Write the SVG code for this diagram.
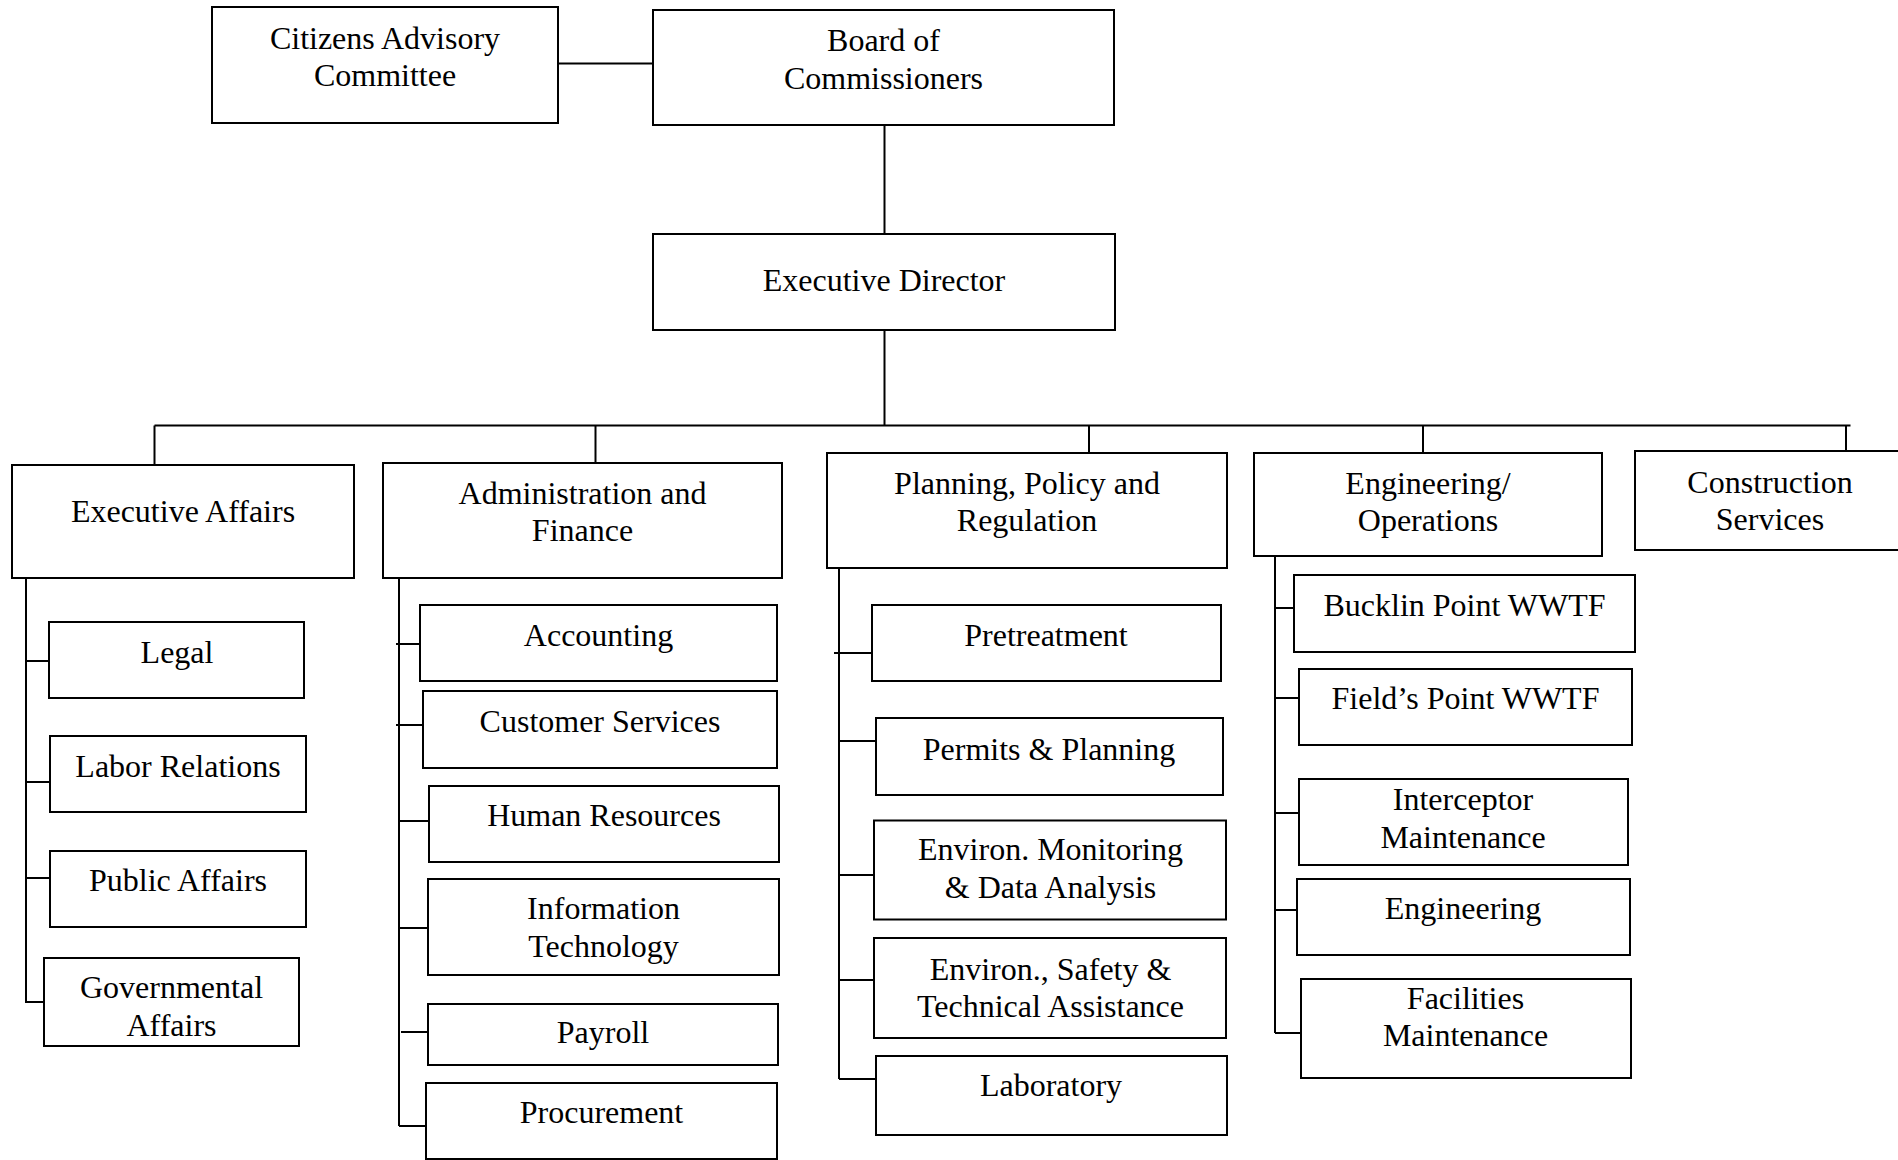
<svg xmlns="http://www.w3.org/2000/svg" width="1898" height="1160" viewBox="0 0 1898 1160">
<style>
  .box { fill: #ffffff; stroke: #000000; stroke-width: 2; }
  .lbl { font-family: "Liberation Serif", "Times New Roman", serif; font-size: 32px; fill: #000000; text-anchor: middle; }
  .conn path { fill: none; stroke: #000000; stroke-width: 2; }
</style>
<rect x="0" y="0" width="1898" height="1160" fill="#ffffff"/>
<g class="conn" id="connectors">
  <path d="M558 63.5 H653"/>
  <path d="M884.5 125 V234"/>
  <path d="M884.5 330 V425.5"/>
  <path d="M154.5 425.5 H1850.5"/>
  <path d="M154.5 425.5 V465"/>
  <path d="M595.5 425.5 V463"/>
  <path d="M1089 425.5 V453"/>
  <path d="M1423 425.5 V453"/>
  <path d="M1846 425.5 V451"/>
  <path d="M26 578 V1002"/>
  <path d="M26 661 H49"/>
  <path d="M26 782 H50"/>
  <path d="M26 878 H50"/>
  <path d="M25 1002 H44"/>
  <path d="M399 578 V1126"/>
  <path d="M396 644 H420"/>
  <path d="M396 725 H423"/>
  <path d="M399 821 H429"/>
  <path d="M399 928 H428"/>
  <path d="M401 1032 H428"/>
  <path d="M399 1126 H426"/>
  <path d="M839 568 V1079"/>
  <path d="M834 653 H872"/>
  <path d="M839 741 H876"/>
  <path d="M839 875 H874"/>
  <path d="M839 980 H874"/>
  <path d="M839 1079 H876"/>
  <path d="M1275 553 V1033"/>
  <path d="M1275 608 H1294"/>
  <path d="M1275 698 H1299"/>
  <path d="M1275 813 H1299"/>
  <path d="M1275 910 H1297"/>
  <path d="M1275 1033 H1301"/>
</g>
<g id="citizens"><rect class="box" x="212" y="7" width="346" height="116"/><text class="lbl" x="385" y="48.5">Citizens Advisory</text><text class="lbl" x="385" y="86">Committee</text></g>
<g id="board"><rect class="box" x="653" y="10" width="461" height="115"/><text class="lbl" x="883.5" y="51">Board of</text><text class="lbl" x="883.5" y="88.5">Commissioners</text></g>
<g id="exec-director"><rect class="box" x="653" y="234" width="462" height="96"/><text class="lbl" x="884" y="291">Executive Director</text></g>
<g id="exec-affairs"><rect class="box" x="12" y="465" width="342" height="113"/><text class="lbl" x="183" y="521.5">Executive Affairs</text></g>
<g id="admin-finance"><rect class="box" x="383" y="463" width="399" height="115"/><text class="lbl" x="582.5" y="504">Administration and</text><text class="lbl" x="582.5" y="541">Finance</text></g>
<g id="planning"><rect class="box" x="827" y="453" width="400" height="115"/><text class="lbl" x="1027" y="494">Planning, Policy and</text><text class="lbl" x="1027" y="531">Regulation</text></g>
<g id="eng-ops"><rect class="box" x="1254" y="453" width="348" height="103"/><text class="lbl" x="1428" y="494">Engineering/</text><text class="lbl" x="1428" y="531">Operations</text></g>
<g id="construction"><rect class="box" x="1635" y="451" width="267" height="99"/><text class="lbl" x="1770" y="492.5">Construction</text><text class="lbl" x="1770" y="530">Services</text></g>
<g id="legal"><rect class="box" x="49" y="622" width="255" height="76"/><text class="lbl" x="177" y="663">Legal</text></g>
<g id="labor"><rect class="box" x="50" y="736" width="256" height="76"/><text class="lbl" x="178" y="777">Labor Relations</text></g>
<g id="public"><rect class="box" x="50" y="851" width="256" height="76"/><text class="lbl" x="178" y="891">Public Affairs</text></g>
<g id="governmental"><rect class="box" x="44" y="958" width="255" height="88"/><text class="lbl" x="171.5" y="998">Governmental</text><text class="lbl" x="171.5" y="1035.5">Affairs</text></g>
<g id="accounting"><rect class="box" x="420" y="605" width="357" height="76"/><text class="lbl" x="598.5" y="646">Accounting</text></g>
<g id="customer"><rect class="box" x="423" y="691" width="354" height="77"/><text class="lbl" x="600" y="732">Customer Services</text></g>
<g id="hr"><rect class="box" x="429" y="786" width="350" height="76"/><text class="lbl" x="604" y="826">Human Resources</text></g>
<g id="it"><rect class="box" x="428" y="879" width="351" height="96"/><text class="lbl" x="603.5" y="918.5">Information</text><text class="lbl" x="603.5" y="956.5">Technology</text></g>
<g id="payroll"><rect class="box" x="428" y="1004" width="350" height="61"/><text class="lbl" x="603" y="1043">Payroll</text></g>
<g id="procurement"><rect class="box" x="426" y="1083" width="351" height="76"/><text class="lbl" x="601.5" y="1123">Procurement</text></g>
<g id="pretreatment"><rect class="box" x="872" y="605" width="349" height="76"/><text class="lbl" x="1046" y="646">Pretreatment</text></g>
<g id="permits"><rect class="box" x="876" y="718" width="347" height="77"/><text class="lbl" x="1049" y="759.5">Permits &amp; Planning</text></g>
<g id="env-monitoring"><rect class="box" x="874" y="820.5" width="352" height="99"/><text class="lbl" x="1050.5" y="860">Environ. Monitoring</text><text class="lbl" x="1050.5" y="897.5">&amp; Data Analysis</text></g>
<g id="env-safety"><rect class="box" x="874" y="938" width="352" height="100"/><text class="lbl" x="1050.5" y="979.5">Environ., Safety &amp;</text><text class="lbl" x="1050.5" y="1017">Technical Assistance</text></g>
<g id="laboratory"><rect class="box" x="876" y="1056" width="351" height="79"/><text class="lbl" x="1051" y="1096">Laboratory</text></g>
<g id="bucklin"><rect class="box" x="1294" y="575" width="341" height="77"/><text class="lbl" x="1464.5" y="616">Bucklin Point WWTF</text></g>
<g id="fields"><rect class="box" x="1299" y="669" width="333" height="76"/><text class="lbl" x="1465.5" y="709">Field’s Point WWTF</text></g>
<g id="interceptor"><rect class="box" x="1299" y="779" width="329" height="86"/><text class="lbl" x="1463" y="809.5">Interceptor</text><text class="lbl" x="1463" y="847.5">Maintenance</text></g>
<g id="engineering"><rect class="box" x="1297" y="879" width="333" height="76"/><text class="lbl" x="1463" y="919">Engineering</text></g>
<g id="facilities"><rect class="box" x="1301" y="979" width="330" height="99"/><text class="lbl" x="1465.5" y="1009">Facilities</text><text class="lbl" x="1465.5" y="1046">Maintenance</text></g>
</svg>
